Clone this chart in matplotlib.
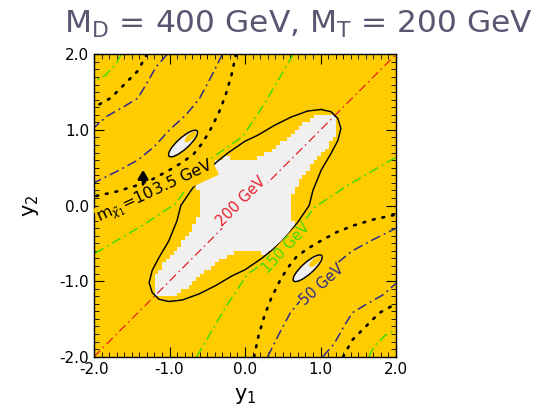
import numpy as np
import matplotlib
matplotlib.use("Agg")
import matplotlib.pyplot as plt
from matplotlib.path import Path
from matplotlib.patches import Ellipse
from matplotlib.colors import ListedColormap
from matplotlib.ticker import MultipleLocator

# ---------------------------------------------------------------------------
# Curves, (y1, y2) pairs
# 150 GeV (green dash-dot)
green_lr_y1 = [-0.64, -0.44, -0.26, -0.08, 0.03, 0.25, 0.55, 0.76, 0.91, 1.08, 1.35, 1.66, 2.0]
green_lr_y2 = [-2.0, -1.66, -1.35, -1.08, -0.91, -0.76, -0.55, -0.25, -0.03, 0.08, 0.26, 0.44, 0.64]
green_ul_y1 = [0.64, 0.44, 0.26, 0.08, -0.03, -0.25, -0.55, -0.76, -0.91, -1.08, -1.35, -1.66, -2.0]
green_ul_y2 = [2.0, 1.66, 1.35, 1.08, 0.91, 0.76, 0.55, 0.25, 0.03, -0.08, -0.26, -0.44, -0.64]
green_lrc_y1 = [1.64, 1.72, 1.79, 1.85, 2.0]
green_lrc_y2 = [-2.0, -1.85, -1.79, -1.72, -1.64]
green_ulc_y1 = [-1.64, -1.72, -1.79, -1.85, -2.0]
green_ulc_y2 = [2.0, 1.85, 1.79, 1.72, 1.64]

# 50 GeV (blue dash-dot)
blue1_lr_y1 = [0.30, 0.45, 0.60, 0.78, 1.0, 1.20, 1.42, 1.70, 2.0]
blue1_lr_y2 = [-2.0, -1.70, -1.42, -1.20, -1.0, -0.78, -0.60, -0.45, -0.30]
blue1_ul_y1 = [-0.30, -0.45, -0.60, -0.78, -1.0, -1.20, -1.42, -1.70, -2.0]
blue1_ul_y2 = [2.0, 1.70, 1.42, 1.20, 1.0, 0.78, 0.60, 0.45, 0.30]
blue2_lr_y1 = [1.03, 1.18, 1.31, 1.42, 1.60, 1.83, 2.0]
blue2_lr_y2 = [-2.0, -1.83, -1.60, -1.42, -1.31, -1.18, -1.03]
blue2_ul_y1 = [-1.03, -1.18, -1.31, -1.42, -1.60, -1.83, -2.0]
blue2_ul_y2 = [2.0, 1.83, 1.60, 1.42, 1.31, 1.18, 1.03]

# 103.5 GeV (black dotted)
dot1_lr_y1 = [0.12, 0.18, 0.26, 0.35, 0.47, 0.57, 0.68, 0.83, 1.00, 1.22, 1.45, 1.72, 2.0]
dot1_lr_y2 = [-2.0, -1.72, -1.45, -1.22, -0.98, -0.82, -0.68, -0.57, -0.47, -0.35, -0.26, -0.18, -0.12]
dot1_ul_y1 = [-0.12, -0.18, -0.26, -0.35, -0.47, -0.57, -0.68, -0.83, -1.00, -1.22, -1.45, -1.72, -2.0]
dot1_ul_y2 = [2.0, 1.72, 1.45, 1.22, 0.98, 0.82, 0.68, 0.57, 0.47, 0.35, 0.26, 0.18, 0.12]
dot2_lr_y1 = [1.30, 1.42, 1.60, 1.78, 2.0]
dot2_lr_y2 = [-2.0, -1.78, -1.60, -1.42, -1.30]
dot2_ul_y1 = [-1.30, -1.42, -1.60, -1.78, -2.0]
dot2_ul_y2 = [2.0, 1.78, 1.60, 1.42, 1.30]

# 200 GeV (red dash-dot diagonal)
red_y1 = [-2.0, 2.0]
red_y2 = [-2.0, 2.0]

# solid black boundary
cont_y1 = [1.01, 1.14, 1.23, 1.27, 1.23, 1.14, 1.01, 0.90, 0.85, 0.70, 0.58, 0.48, 0.37,
           0.22, 0.00, -0.17, -0.39, -0.61, -0.83, -1.01, -1.14, -1.23, -1.27, -1.23,
           -1.14, -1.01, -0.90, -0.85, -0.70, -0.58, -0.48, -0.37, -0.22, 0.00, 0.17,
           0.39, 0.61, 0.83, 1.01]
cont_y2 = [1.27, 1.24, 1.15, 1.02, 0.86, 0.69, 0.47, 0.20, 0.00, -0.22, -0.37, -0.48, -0.58,
           -0.70, -0.85, -0.93, -1.06, -1.17, -1.25, -1.27, -1.24, -1.15, -1.02, -0.86,
           -0.69, -0.47, -0.20, 0.00, 0.22, 0.37, 0.48, 0.58, 0.70, 0.85, 0.93,
           1.06, 1.17, 1.25, 1.27]

# grey (allowed) region outline
gray_y1 = [1.18, 1.22, 1.17, 1.05, 0.90, 0.78, 0.66, 0.61, 0.61, 0.62, 0.66, 0.58, 0.48,
           0.37, 0.27, 0.20, 0.05, -0.10, -0.25, -0.40, -0.56, -0.74, -0.90, -1.06,
           -1.18, -1.22, -1.17, -1.05, -0.90, -0.78, -0.66, -0.61, -0.61, -0.62, -0.66,
           -0.58, -0.48, -0.37, -0.27, -0.20, -0.05, 0.10, 0.25, 0.40, 0.56, 0.74,
           0.90, 1.06]
gray_y2 = [1.18, 1.06, 0.90, 0.74, 0.56, 0.40, 0.25, 0.10, -0.05, -0.20, -0.27, -0.37, -0.48,
           -0.58, -0.66, -0.62, -0.61, -0.61, -0.66, -0.78, -0.90, -1.05, -1.17, -1.22,
           -1.18, -1.06, -0.90, -0.74, -0.56, -0.40, -0.25, -0.10, 0.05, 0.20, 0.27,
           0.37, 0.48, 0.58, 0.66, 0.62, 0.61, 0.61, 0.66, 0.78, 0.90, 1.05,
           1.17, 1.22]

# small closed loops: centre y1, centre y2, length, width, angle
loop_cx = [0.83, -0.82]
loop_cy = [-0.83, 0.82]
loop_len = [0.50, 0.50]
loop_wid = [0.15, 0.15]
loop_ang = [42, 42]
# yellow patch inside each loop (upper-right end)
gap_cx = [0.93, -0.72]
gap_cy = [-0.74, 0.91]
gap_len = [0.20, 0.20]
gap_wid = [0.08, 0.08]

# ---------------------------------------------------------------------------
GOLD = '#ffcc00'
GREY = '#f0f0f0'
RED = '#e8202a'
GREEN = '#44dd00'
BLUE = '#2c2a8e'

fig = plt.figure(figsize=(5.51, 4.12), dpi=100)
ax = fig.add_axes([0.1706, 0.1342, 0.5481, 0.734])
ax.set_facecolor(GOLD)

# pixelated grey region
g = np.linspace(-2 + 0.025, 2 - 0.025, 80)
X, Y = np.meshgrid(g, g)
inside = Path(np.column_stack([gray_y1, gray_y2])).contains_points(
    np.column_stack([X.ravel(), Y.ravel()])).reshape(X.shape)
ax.imshow(np.where(inside, 1.0, np.nan), extent=(-2, 2, -2, 2), origin='lower',
          cmap=ListedColormap([GREY]), interpolation='nearest', aspect='auto', zorder=1)

ax.plot(cont_y1, cont_y2, color='black', lw=1.05, zorder=3)
for cx, cy, ln, wd, an in zip(loop_cx, loop_cy, loop_len, loop_wid, loop_ang):
    ax.add_patch(Ellipse((cx, cy), ln, wd, angle=an, facecolor=GREY,
                         edgecolor='none', zorder=2.5))
for cx, cy, ln, wd, an in zip(gap_cx, gap_cy, gap_len, gap_wid, loop_ang):
    ax.add_patch(Ellipse((cx, cy), ln, wd, angle=an, facecolor=GOLD,
                         edgecolor='none', zorder=2.6))
for cx, cy, ln, wd, an in zip(loop_cx, loop_cy, loop_len, loop_wid, loop_ang):
    ax.add_patch(Ellipse((cx, cy), ln, wd, angle=an, facecolor='none',
                         edgecolor='black', lw=1.05, zorder=3))

dd_blue = (0, (6.5, 2.6, 1.3, 2.6))
dd_green = (0, (6.5, 2.6, 1.3, 2.6))
dd_red = (0, (7, 3, 1.3, 3))
dots = (0, (0.7, 3.0))

ax.plot(red_y1, red_y2, color=RED, lw=0.9, ls=dd_red, zorder=2)
for xs, ys in [(green_lr_y1, green_lr_y2), (green_ul_y1, green_ul_y2),
               (green_lrc_y1, green_lrc_y2), (green_ulc_y1, green_ulc_y2)]:
    ax.plot(xs, ys, color=GREEN, lw=1.1, ls=dd_green, zorder=2)
for xs, ys in [(blue1_lr_y1, blue1_lr_y2), (blue1_ul_y1, blue1_ul_y2),
               (blue2_lr_y1, blue2_lr_y2), (blue2_ul_y1, blue2_ul_y2)]:
    ax.plot(xs, ys, color=BLUE, lw=1.1, ls=dd_blue, zorder=2)
for xs, ys in [(dot1_lr_y1, dot1_lr_y2), (dot1_ul_y1, dot1_ul_y2),
               (dot2_lr_y1, dot2_lr_y2), (dot2_ul_y1, dot2_ul_y2)]:
    ax.plot(xs, ys, color='black', lw=1.9, ls=dots, dash_capstyle='round', zorder=2)

# inline labels
ax.text(-0.05, 0.05, '200 GeV', color=RED, fontsize=10.5, rotation=45,
        ha='center', va='center', zorder=4,
        bbox=dict(facecolor=GREY, edgecolor='none', pad=0.5))
ax.text(0.55, -0.56, '150 GeV', color=GREEN, fontsize=10.5, rotation=47,
        ha='center', va='center', zorder=4,
        bbox=dict(facecolor=GOLD, edgecolor='none', pad=0.5))
ax.text(1.02, -1.05, '50 GeV', color=BLUE, fontsize=10.5, rotation=42,
        ha='center', va='center', zorder=4,
        bbox=dict(facecolor=GOLD, edgecolor='none', pad=0.5))
ax.text(-1.18, 0.18, r'm$_{\tilde{\chi}_1}$=103.5 GeV', color='black', fontsize=11.5,
        rotation=25, ha='center', va='center', zorder=4,
        bbox=dict(facecolor=GOLD, edgecolor='none', pad=0.5))
ax.annotate('', xy=(-1.35, 0.47), xytext=(-1.35, 0.28),
            arrowprops=dict(arrowstyle='-|>,head_width=0.3,head_length=0.5',
                            color='black', lw=2.0, shrinkA=0, shrinkB=0), zorder=4)

ax.set_xlim(-2, 2)
ax.set_ylim(-2, 2)
ax.xaxis.set_major_locator(MultipleLocator(1.0))
ax.yaxis.set_major_locator(MultipleLocator(1.0))
ax.xaxis.set_minor_locator(MultipleLocator(0.1))
ax.yaxis.set_minor_locator(MultipleLocator(0.1))
ax.xaxis.set_major_formatter(plt.FormatStrFormatter('%.1f'))
ax.yaxis.set_major_formatter(plt.FormatStrFormatter('%.1f'))
ax.tick_params(which='both', direction='in', top=True, right=True, labelsize=11)
ax.tick_params(which='major', length=7, width=0.8)
ax.tick_params(which='minor', length=3.5, width=0.6)
for s in ax.spines.values():
    s.set_linewidth(1.0)

ax.set_xlabel('y$_1$', fontsize=15, labelpad=7)
ax.set_ylabel('y$_2$', fontsize=15, labelpad=13)

fig.text(0.541, 0.920, r'M$_\mathrm{D}$ = 400 GeV, M$_\mathrm{T}$ = 200 GeV',
         color='#5c5470', fontsize=22.5, ha='center', va='baseline')

fig.savefig('out.png', dpi=100)
